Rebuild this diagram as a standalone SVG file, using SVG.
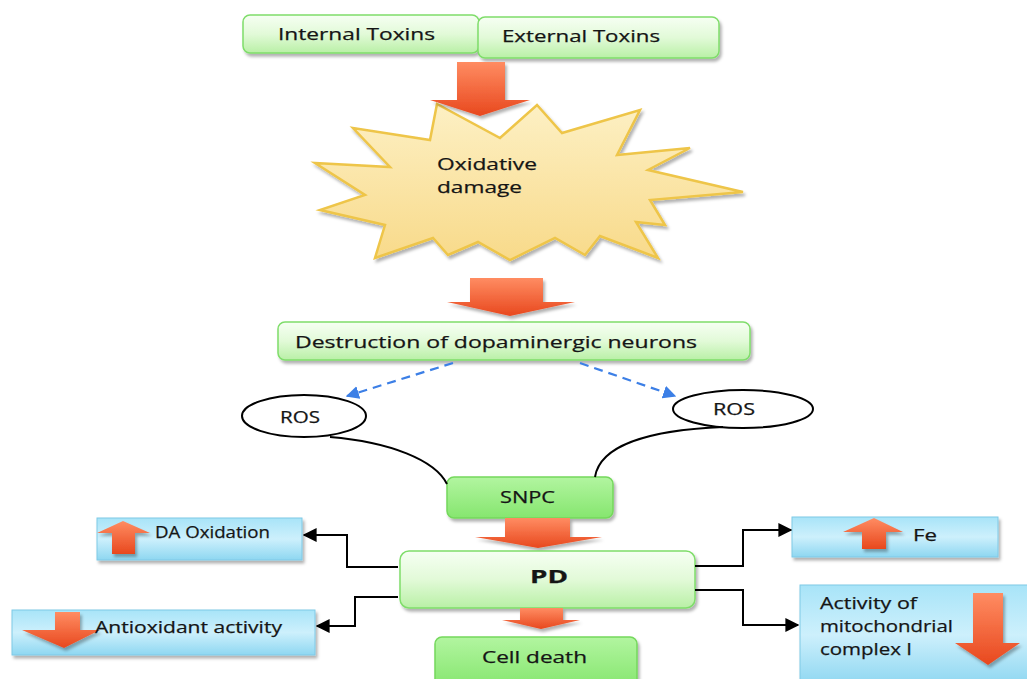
<svg xmlns="http://www.w3.org/2000/svg" width="1027" height="679" viewBox="0 0 1027 679">
<defs>
<linearGradient id="gLight" x1="0" y1="0" x2="0" y2="1"><stop offset="0" stop-color="#F6FFF3"/><stop offset="0.5" stop-color="#E2FAD8"/><stop offset="1" stop-color="#B9F0A6"/></linearGradient>
<linearGradient id="gSat" x1="0" y1="0" x2="0" y2="1"><stop offset="0" stop-color="#B2F5A0"/><stop offset="1" stop-color="#86E66F"/></linearGradient>
<linearGradient id="gBlue" x1="0" y1="0" x2="0" y2="1"><stop offset="0" stop-color="#A8E4F8"/><stop offset="0.5" stop-color="#CDF0FC"/><stop offset="1" stop-color="#8ED7F1"/></linearGradient>
<linearGradient id="gRed" x1="0" y1="0" x2="0" y2="1"><stop offset="0" stop-color="#FF8C62"/><stop offset="1" stop-color="#E8481E"/></linearGradient>
<linearGradient id="gStar" x1="0" y1="0" x2="0" y2="1"><stop offset="0" stop-color="#FDF0C4"/><stop offset="1" stop-color="#F8DA8A"/></linearGradient>
<filter id="sh" x="-10%" y="-10%" width="130%" height="140%"><feDropShadow dx="2" dy="3" stdDeviation="1.5" flood-color="#000" flood-opacity="0.3"/></filter>
<marker id="mk" viewBox="0 0 10 10" refX="9" refY="5" markerWidth="7" markerHeight="7" orient="auto"><path d="M0,0 L10,5 L0,10 Z" fill="#000"/></marker>
<marker id="mb" viewBox="0 0 10 10" refX="9" refY="5" markerWidth="6" markerHeight="6" orient="auto"><path d="M0,0 L10,5 L0,10 Z" fill="#3C7FE6"/></marker>
</defs>
<style>
.t{font-family:"Open Sans","Liberation Sans",sans-serif;fill:#151515;font-size:17px;stroke:#151515;stroke-width:0.25}
.gl{fill:url(#gLight);stroke:#7FDD6A;stroke-width:1.5;filter:url(#sh)}
.gs{fill:url(#gSat);stroke:#74D85C;stroke-width:1.5;filter:url(#sh)}
.bl{fill:url(#gBlue);stroke:#7FC9E6;stroke-width:1;filter:url(#sh)}
.ar{fill:url(#gRed);filter:url(#sh)}
.cn{fill:none;stroke:#000;stroke-width:2}
.dash{fill:none;stroke:#3C7FE6;stroke-width:2.2;stroke-dasharray:9 6}
.el{fill:#fff;stroke:#000;stroke-width:2}
</style>
<rect width="1027" height="679" fill="#fff"/>

<g id="internal-toxins"><rect class="gl" x="243" y="15" width="236" height="38" rx="7"/><text class="t" x="278" y="40" textLength="157" lengthAdjust="spacingAndGlyphs">Internal Toxins</text></g>
<g id="external-toxins"><rect class="gl" x="478" y="17" width="241" height="41" rx="7"/><text class="t" x="502" y="42" textLength="158" lengthAdjust="spacingAndGlyphs">External Toxins</text></g>

<g id="oxidative-damage">
<polygon points="437,104 500,138 537,105 562,133 640,110 617,155 690,148 648,170 743,192 650,200 665,225 636,222 658,258 600,236 585,255 555,238 510,260 478,242 448,255 433,238 375,258 385,225 320,210 365,195 315,163 390,167 353,128 430,140" fill="url(#gStar)" stroke="#EEC548" stroke-width="2.5" stroke-linejoin="miter" filter="url(#sh)"/>
<text class="t" x="437" y="170" textLength="100" lengthAdjust="spacingAndGlyphs">Oxidative</text>
<text class="t" x="437" y="193" textLength="85" lengthAdjust="spacingAndGlyphs">damage</text>
</g>
<g id="arrow-top"><polygon class="ar" points="457,62 505,62 505,100 530,100 480,116 430,100 457,100"/></g>
<g id="arrow-2"><polygon class="ar" points="470,278 543,278 543,302 575,302 510,316 447,302 470,302"/></g>

<g id="destruction"><rect class="gl" x="278" y="322" width="472" height="38" rx="7"/><text class="t" x="295" y="348" textLength="402" lengthAdjust="spacingAndGlyphs">Destruction of dopaminergic neurons</text></g>

<g id="ros-left"><ellipse class="el" cx="304" cy="416" rx="62" ry="21"/><text class="t" x="280" y="423" font-size="16" textLength="40" lengthAdjust="spacingAndGlyphs">ROS</text></g>
<g id="ros-right"><ellipse class="el" cx="743" cy="409" rx="70" ry="19"/><text class="t" x="713" y="415" font-size="16" textLength="42" lengthAdjust="spacingAndGlyphs">ROS</text></g>

<g id="snpc"><rect class="gs" x="447" y="477" width="166" height="41" rx="7"/><text class="t" x="500" y="503" font-size="16" textLength="55" lengthAdjust="spacingAndGlyphs">SNPC</text></g>
<g id="arrow-3"><polygon class="ar" points="505,518 570,518 570,537 602,537 538,548 475,537 505,537"/></g>

<g id="pd"><rect class="gl" x="400" y="551" width="295" height="57" rx="9"/><text class="t" x="530" y="583" font-size="22" font-weight="bold" textLength="38" lengthAdjust="spacingAndGlyphs">PD</text></g>
<g id="arrow-4"><polygon class="ar" points="520,608 563,608 563,620 580,620 541,629 502,620 520,620"/></g>

<g id="cell-death"><rect class="gs" x="435" y="637" width="202" height="50" rx="7"/><text class="t" x="482" y="663" font-size="19" textLength="105" lengthAdjust="spacingAndGlyphs">Cell death</text></g>

<g id="da-oxidation"><rect class="bl" x="97" y="518" width="205" height="42"/><polygon class="ar" points="123,521 150,533 135,533 135,554 112,554 112,533 97,533"/><text class="t" x="155" y="538" font-size="15" textLength="115" lengthAdjust="spacingAndGlyphs">DA Oxidation</text></g>

<g id="antioxidant"><rect class="bl" x="12" y="610" width="303" height="45"/><polygon class="ar" points="55,612 80,612 80,630 100,630 64,648 22,630 55,630"/><text class="t" x="95" y="633" textLength="187" lengthAdjust="spacingAndGlyphs">Antioxidant activity</text></g>

<g id="fe"><rect class="bl" x="792" y="517" width="206" height="40"/><polygon class="ar" points="874,518 903,532 886,532 886,549 862,549 862,532 843,532"/><text class="t" x="913" y="541" font-size="16" textLength="24" lengthAdjust="spacingAndGlyphs">Fe</text></g>

<g id="mito"><rect class="bl" x="800" y="585" width="240" height="100"/><polygon class="ar" points="973,593 1003,593 1003,643 1020,643 988,665 955,643 973,643"/>
<text class="t" x="820" y="609" font-size="16" textLength="97" lengthAdjust="spacingAndGlyphs">Activity of</text>
<text class="t" x="820" y="632" font-size="16" textLength="133" lengthAdjust="spacingAndGlyphs">mitochondrial</text>
<text class="t" x="820" y="655" font-size="16" textLength="92" lengthAdjust="spacingAndGlyphs">complex I</text></g>

<g id="connectors">
<path class="dash" d="M453,363 L347,396" marker-end="url(#mb)"/>
<path class="dash" d="M580,363 L675,396" marker-end="url(#mb)"/>
<path class="cn" d="M330,437 C390,442 435,460 447,484"/>
<path class="cn" d="M723,427 C650,430 600,445 595,477"/>
<path class="cn" d="M398,567 H347 V535 H304" marker-end="url(#mk)"/>
<path class="cn" d="M398,597 H355 V626 H317" marker-end="url(#mk)"/>
<path class="cn" d="M695,566 H743 V530 H791" marker-end="url(#mk)"/>
<path class="cn" d="M695,590 H743 V625 H798" marker-end="url(#mk)"/>
</g>
</svg>
